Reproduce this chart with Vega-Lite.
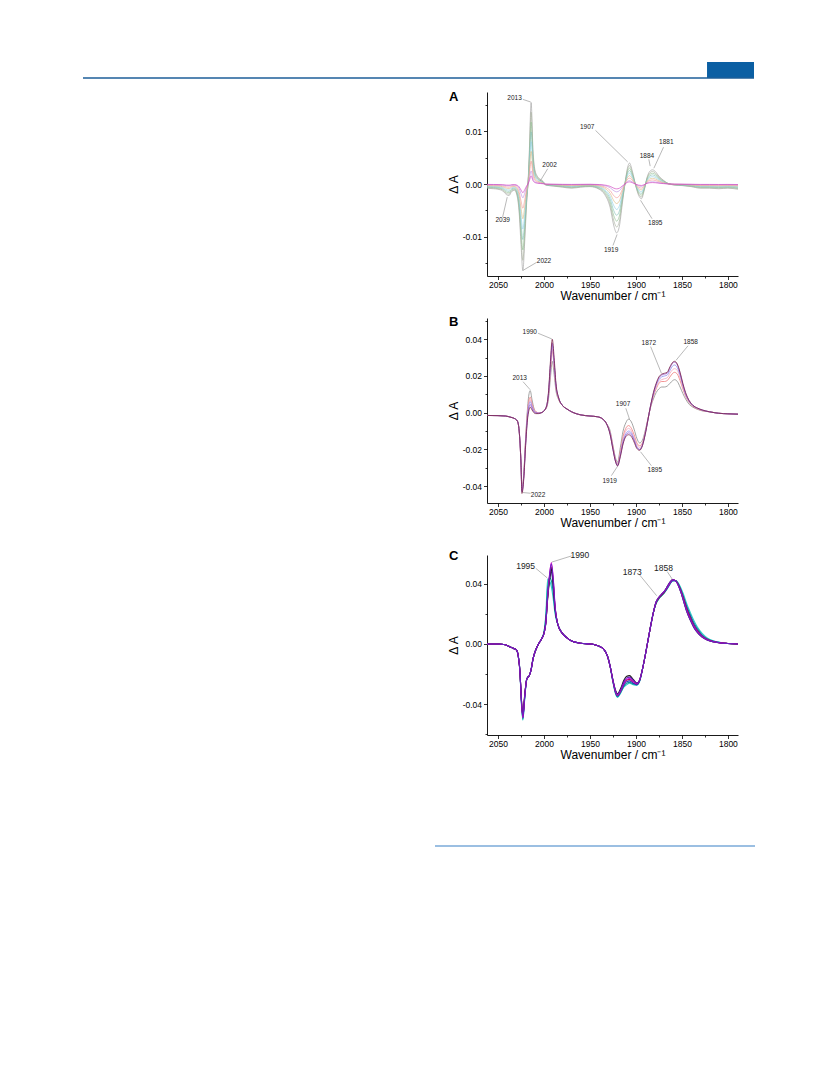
{
"$schema":"https://vega.github.io/schema/vega-lite/v6.json",
"background":"white",
"padding":{"left":82,"top":62,"right":0,"bottom":0},
"config":{"font":"Liberation Sans","view":{"stroke":null},
"axis":{"domainColor":"#000","domainWidth":0.9,"tickColor":"#000","tickWidth":0.8,"labelColor":"#000","labelFontSize":8.5,"titleColor":"#000","titleFontSize":12,"titleFontWeight":"normal","grid":false,"labelFont":"Liberation Sans","titleFont":"Liberation Sans"},
"title":{"color":"#000","font":"Liberation Sans"}},
"spacing":10,
"vconcat":[
{"width":671,"height":16,"view":{"stroke":null},
"data":{"values":[{"part":"rule","from":0,"to":100},{"part":"tab","from":93,"to":100}]},
"layer":[
{"transform":[{"filter":"datum.part==='tab'"}],"mark":{"type":"rect","color":"#0b5fa3"},
"encoding":{"x":{"field":"from","type":"quantitative","scale":{"domain":[0,100],"nice":false},"axis":null},"x2":{"field":"to"},"y":{"datum":0,"type":"quantitative","scale":{"domain":[0,1]},"axis":null},"y2":{"datum":1}}},
{"transform":[{"filter":"datum.part==='rule'"}],"mark":{"type":"rule","color":"#1d5e99","strokeWidth":1.6},
"encoding":{"x":{"field":"from","type":"quantitative","scale":{"domain":[0,100],"nice":false},"axis":null},"x2":{"field":"to"},"y":{"datum":0,"type":"quantitative","scale":{"domain":[0,1]},"axis":null}}}
]},
{"spacing":0,"hconcat":[
{"width":364,"height":1,"view":{"stroke":null,"fill":"white"},"data":{"values":[{"a":0}]},"mark":{"type":"point","opacity":0},"encoding":{}},
{"spacing":22,"vconcat":[
{"spacing":14,"vconcat":[
{"width":251,"height":184,
"title":{"text":"A","anchor":"start","frame":"bounds","offset":-12,"dx":2,"fontSize":13,"fontWeight":"bold","color":"#000"},
"encoding":{
"x":{"field":"x","type":"quantitative","scale":{"domain":[1789,2062],"reverse":true,"nice":false,"zero":false},
"axis":{"title":"Wavenumber / cm⁻¹","format":"d","values":[1800,1825,1850,1875,1900,1925,1950,1975,2000,2025,2050],"labelExpr":"datum.value % 50 === 0 ? datum.label : ''","tickSize":{"condition":{"test":"datum.value % 50 === 0","value":3.5},"value":2},"labelPadding":1,"titlePadding":1,"labelOverlap":false,"labelFlush":false}},
"y":{"field":"dA","type":"quantitative","scale":{"domain":[-0.0175,0.0175],"nice":false,"zero":false},
"axis":{"title":"Δ A","values":[-0.015,-0.01,-0.005,0,0.005,0.01,0.015],"labelExpr":"abs(datum.value*100-round(datum.value*100))<0.001 ? replace(format(datum.value,'.2f'),'−','-') : ''","tickSize":{"condition":{"test":"abs(datum.value*100-round(datum.value*100))<0.001","value":3.5},"value":2},"labelPadding":2,"titlePadding":3,"minExtent":24,"maxExtent":24,"labelOverlap":false}}},
"layer":[
{"data":{"values":[
{"x":2062,"a1":-0.0008,"a2":-0.0007,"a3":-0.00061,"a4":-0.00051,"a5":-0.00042,"a6":-0.00032,"a7":-0.00022,"a8":-0.00013,"a9":-0.00008},
{"x":2055,"a1":-0.0009,"a2":-0.00079,"a3":-0.00068,"a4":-0.00058,"a5":-0.00047,"a6":-0.00036,"a7":-0.00025,"a8":-0.00014,"a9":-0.00009},
{"x":2050,"a1":-0.001,"a2":-0.00088,"a3":-0.00076,"a4":-0.00064,"a5":-0.00052,"a6":-0.0004,"a7":-0.00028,"a8":-0.00016,"a9":-0.0001},
{"x":2045,"a1":-0.0013,"a2":-0.00114,"a3":-0.00099,"a4":-0.00083,"a5":-0.00068,"a6":-0.00052,"a7":-0.00036,"a8":-0.00021,"a9":-0.00013},
{"x":2041,"a1":-0.002,"a2":-0.00176,"a3":-0.00152,"a4":-0.00128,"a5":-0.00104,"a6":-0.0008,"a7":-0.00056,"a8":-0.00032,"a9":-0.0002},
{"x":2038,"a1":-0.0022,"a2":-0.00194,"a3":-0.00167,"a4":-0.00141,"a5":-0.00114,"a6":-0.00088,"a7":-0.00062,"a8":-0.00035,"a9":-0.00022},
{"x":2035,"a1":-0.0014,"a2":-0.00123,"a3":-0.00106,"a4":-0.0009,"a5":-0.00073,"a6":-0.00056,"a7":-0.00039,"a8":-0.00022,"a9":-0.00014},
{"x":2032,"a1":-0.0012,"a2":-0.00106,"a3":-0.00091,"a4":-0.00077,"a5":-0.00062,"a6":-0.00048,"a7":-0.00034,"a8":-0.00019,"a9":-0.00012},
{"x":2029,"a1":-0.0025,"a2":-0.0022,"a3":-0.0019,"a4":-0.0016,"a5":-0.0013,"a6":-0.001,"a7":-0.0007,"a8":-0.0004,"a9":-0.00025},
{"x":2027,"a1":-0.0055,"a2":-0.00484,"a3":-0.00418,"a4":-0.00352,"a5":-0.00286,"a6":-0.0022,"a7":-0.00154,"a8":-0.00088,"a9":-0.00055},
{"x":2025,"a1":-0.0115,"a2":-0.01012,"a3":-0.00874,"a4":-0.00736,"a5":-0.00598,"a6":-0.0046,"a7":-0.00322,"a8":-0.00184,"a9":-0.00115},
{"x":2023,"a1":-0.0165,"a2":-0.01452,"a3":-0.01254,"a4":-0.01056,"a5":-0.00858,"a6":-0.0066,"a7":-0.00462,"a8":-0.00264,"a9":-0.00165},
{"x":2021,"a1":-0.011,"a2":-0.00968,"a3":-0.00836,"a4":-0.00704,"a5":-0.00572,"a6":-0.0044,"a7":-0.00308,"a8":-0.00176,"a9":-0.0011},
{"x":2019,"a1":-0.004,"a2":-0.00352,"a3":-0.00304,"a4":-0.00256,"a5":-0.00208,"a6":-0.0016,"a7":-0.00112,"a8":-0.00064,"a9":-0.0004},
{"x":2017,"a1":0.0015,"a2":0.00132,"a3":0.00114,"a4":0.00096,"a5":0.00078,"a6":0.0006,"a7":0.00042,"a8":0.00024,"a9":0.00015},
{"x":2016,"a1":0.006,"a2":0.00528,"a3":0.00456,"a4":0.00384,"a5":0.00312,"a6":0.0024,"a7":0.00168,"a8":0.00096,"a9":0.0006},
{"x":2014,"a1":0.0155,"a2":0.01364,"a3":0.01178,"a4":0.00992,"a5":0.00806,"a6":0.0062,"a7":0.00434,"a8":0.00248,"a9":0.00155},
{"x":2012,"a1":0.0065,"a2":0.00572,"a3":0.00494,"a4":0.00416,"a5":0.00338,"a6":0.0026,"a7":0.00182,"a8":0.00104,"a9":0.00065},
{"x":2010,"a1":0.0028,"a2":0.00246,"a3":0.00213,"a4":0.00179,"a5":0.00146,"a6":0.00112,"a7":0.00078,"a8":0.00045,"a9":0.00028},
{"x":2007,"a1":0.0014,"a2":0.00123,"a3":0.00106,"a4":0.0009,"a5":0.00073,"a6":0.00056,"a7":0.00039,"a8":0.00022,"a9":0.00014},
{"x":2004,"a1":0.0009,"a2":0.00079,"a3":0.00068,"a4":0.00058,"a5":0.00047,"a6":0.00036,"a7":0.00025,"a8":0.00014,"a9":0.00009},
{"x":2001,"a1":0.0005,"a2":0.00044,"a3":0.00038,"a4":0.00032,"a5":0.00026,"a6":0.0002,"a7":0.00014,"a8":0.00008,"a9":0.00005},
{"x":1998,"a1":-0.0002,"a2":-0.00018,"a3":-0.00015,"a4":-0.00013,"a5":-0.0001,"a6":-0.00008,"a7":-0.00006,"a8":-0.00003,"a9":-0.00002},
{"x":1990,"a1":-0.0004,"a2":-0.00035,"a3":-0.0003,"a4":-0.00026,"a5":-0.00021,"a6":-0.00016,"a7":-0.00011,"a8":-0.00006,"a9":-0.00004},
{"x":1980,"a1":-0.0006,"a2":-0.00053,"a3":-0.00046,"a4":-0.00038,"a5":-0.00031,"a6":-0.00024,"a7":-0.00017,"a8":-0.0001,"a9":-0.00006},
{"x":1970,"a1":-0.0008,"a2":-0.0007,"a3":-0.00061,"a4":-0.00051,"a5":-0.00042,"a6":-0.00032,"a7":-0.00022,"a8":-0.00013,"a9":-0.00008},
{"x":1960,"a1":-0.0006,"a2":-0.00053,"a3":-0.00046,"a4":-0.00038,"a5":-0.00031,"a6":-0.00024,"a7":-0.00017,"a8":-0.0001,"a9":-0.00006},
{"x":1950,"a1":-0.0005,"a2":-0.00044,"a3":-0.00038,"a4":-0.00032,"a5":-0.00026,"a6":-0.0002,"a7":-0.00014,"a8":-0.00008,"a9":-0.00005},
{"x":1940,"a1":-0.001,"a2":-0.00088,"a3":-0.00076,"a4":-0.00064,"a5":-0.00052,"a6":-0.0004,"a7":-0.00028,"a8":-0.00016,"a9":-0.0001},
{"x":1934,"a1":-0.002,"a2":-0.00176,"a3":-0.00152,"a4":-0.00128,"a5":-0.00104,"a6":-0.0008,"a7":-0.00056,"a8":-0.00032,"a9":-0.0002},
{"x":1928,"a1":-0.0045,"a2":-0.00396,"a3":-0.00342,"a4":-0.00288,"a5":-0.00234,"a6":-0.0018,"a7":-0.00126,"a8":-0.00072,"a9":-0.00045},
{"x":1924,"a1":-0.008,"a2":-0.00704,"a3":-0.00608,"a4":-0.00512,"a5":-0.00416,"a6":-0.0032,"a7":-0.00224,"a8":-0.00128,"a9":-0.0008},
{"x":1921,"a1":-0.0093,"a2":-0.00818,"a3":-0.00707,"a4":-0.00595,"a5":-0.00484,"a6":-0.00372,"a7":-0.0026,"a8":-0.00149,"a9":-0.00093},
{"x":1918,"a1":-0.008,"a2":-0.00704,"a3":-0.00608,"a4":-0.00512,"a5":-0.00416,"a6":-0.0032,"a7":-0.00224,"a8":-0.00128,"a9":-0.0008},
{"x":1915,"a1":-0.004,"a2":-0.00352,"a3":-0.00304,"a4":-0.00256,"a5":-0.00208,"a6":-0.0016,"a7":-0.00112,"a8":-0.00064,"a9":-0.0004},
{"x":1912,"a1":0,"a2":0,"a3":0,"a4":0,"a5":0,"a6":0,"a7":0,"a8":0,"a9":0},
{"x":1909,"a1":0.0032,"a2":0.00282,"a3":0.00243,"a4":0.00205,"a5":0.00166,"a6":0.00128,"a7":0.0009,"a8":0.00051,"a9":0.00032},
{"x":1907,"a1":0.004,"a2":0.00352,"a3":0.00304,"a4":0.00256,"a5":0.00208,"a6":0.0016,"a7":0.00112,"a8":0.00064,"a9":0.0004},
{"x":1904,"a1":0.0025,"a2":0.0022,"a3":0.0019,"a4":0.0016,"a5":0.0013,"a6":0.001,"a7":0.0007,"a8":0.0004,"a9":0.00025},
{"x":1900,"a1":-0.0005,"a2":-0.00044,"a3":-0.00038,"a4":-0.00032,"a5":-0.00026,"a6":-0.0002,"a7":-0.00014,"a8":-0.00008,"a9":-0.00005},
{"x":1897,"a1":-0.0022,"a2":-0.00194,"a3":-0.00167,"a4":-0.00141,"a5":-0.00114,"a6":-0.00088,"a7":-0.00062,"a8":-0.00035,"a9":-0.00022},
{"x":1894,"a1":-0.0028,"a2":-0.00246,"a3":-0.00213,"a4":-0.00179,"a5":-0.00146,"a6":-0.00112,"a7":-0.00078,"a8":-0.00045,"a9":-0.00028},
{"x":1891,"a1":-0.0012,"a2":-0.00106,"a3":-0.00091,"a4":-0.00077,"a5":-0.00062,"a6":-0.00048,"a7":-0.00034,"a8":-0.00019,"a9":-0.00012},
{"x":1888,"a1":0.0012,"a2":0.00106,"a3":0.00091,"a4":0.00077,"a5":0.00062,"a6":0.00048,"a7":0.00034,"a8":0.00019,"a9":0.00012},
{"x":1885,"a1":0.0024,"a2":0.00211,"a3":0.00182,"a4":0.00154,"a5":0.00125,"a6":0.00096,"a7":0.00067,"a8":0.00038,"a9":0.00024},
{"x":1882,"a1":0.0027,"a2":0.00238,"a3":0.00205,"a4":0.00173,"a5":0.0014,"a6":0.00108,"a7":0.00076,"a8":0.00043,"a9":0.00027},
{"x":1879,"a1":0.0024,"a2":0.00211,"a3":0.00182,"a4":0.00154,"a5":0.00125,"a6":0.00096,"a7":0.00067,"a8":0.00038,"a9":0.00024},
{"x":1875,"a1":0.0015,"a2":0.00132,"a3":0.00114,"a4":0.00096,"a5":0.00078,"a6":0.0006,"a7":0.00042,"a8":0.00024,"a9":0.00015},
{"x":1870,"a1":0.0007,"a2":0.00062,"a3":0.00053,"a4":0.00045,"a5":0.00036,"a6":0.00028,"a7":0.0002,"a8":0.00011,"a9":0.00007},
{"x":1865,"a1":0.0001,"a2":0.00009,"a3":0.00008,"a4":0.00006,"a5":0.00005,"a6":0.00004,"a7":0.00003,"a8":0.00002,"a9":0.00001},
{"x":1858,"a1":-0.0002,"a2":-0.00018,"a3":-0.00015,"a4":-0.00013,"a5":-0.0001,"a6":-0.00008,"a7":-0.00006,"a8":-0.00003,"a9":-0.00002},
{"x":1850,"a1":-0.0003,"a2":-0.00026,"a3":-0.00023,"a4":-0.00019,"a5":-0.00016,"a6":-0.00012,"a7":-0.00008,"a8":-0.00005,"a9":-0.00003},
{"x":1840,"a1":-0.0005,"a2":-0.00044,"a3":-0.00038,"a4":-0.00032,"a5":-0.00026,"a6":-0.0002,"a7":-0.00014,"a8":-0.00008,"a9":-0.00005},
{"x":1830,"a1":-0.0008,"a2":-0.0007,"a3":-0.00061,"a4":-0.00051,"a5":-0.00042,"a6":-0.00032,"a7":-0.00022,"a8":-0.00013,"a9":-0.00008},
{"x":1820,"a1":-0.0008,"a2":-0.0007,"a3":-0.00061,"a4":-0.00051,"a5":-0.00042,"a6":-0.00032,"a7":-0.00022,"a8":-0.00013,"a9":-0.00008},
{"x":1810,"a1":-0.0009,"a2":-0.00079,"a3":-0.00068,"a4":-0.00058,"a5":-0.00047,"a6":-0.00036,"a7":-0.00025,"a8":-0.00014,"a9":-0.00009},
{"x":1800,"a1":-0.0008,"a2":-0.0007,"a3":-0.00061,"a4":-0.00051,"a5":-0.00042,"a6":-0.00032,"a7":-0.00022,"a8":-0.00013,"a9":-0.00008},
{"x":1789,"a1":-0.001,"a2":-0.00088,"a3":-0.00076,"a4":-0.00064,"a5":-0.00052,"a6":-0.0004,"a7":-0.00028,"a8":-0.00016,"a9":-0.0001}
]},
"transform":[{"fold":["a1","a2","a3","a4","a5","a6","a7","a8","a9"],"as":["series","dA"]}],
"mark":{"type":"line","strokeWidth":0.6,"interpolate":"monotone"},
"encoding":{"color":{"field":"series","type":"nominal","scale":{"domain":["a1","a2","a3","a4","a5","a6","a7","a8","a9","b6","b5","b4","b3","b2","b1","c7","c6","c5","c4","c1","c3","c2"],"range":["#9a9a9a","#a4ad98","#8dbd8d","#7fbfb5","#8ccfe6","#d9b77a","#f29191","#b88ae0","#cc33bb","#8c8c8c","#f07878","#f0a8c0","#8c8cf0","#9a5cc8","#7a2348","#33cccc","#119999","#2233bb","#b01030","#1a1a1a","#cc00cc","#6a1fc0"]},"legend":null}}},
{"data":{"values":[
{"x":2023,"dA":0.0161,"x2":2014.5,"dA2":0.0156},
{"x":1996,"dA":0.0029,"x2":2004,"dA2":0.0006},
{"x":2045,"dA":-0.0063,"x2":2040,"dA2":-0.0025},
{"x":2008,"dA":-0.0149,"x2":2022.5,"dA2":-0.0164},
{"x":1944,"dA":0.0102,"x2":1909,"dA2":0.0042},
{"x":1886,"dA":0.0047,"x2":1884.5,"dA2":0.0034},
{"x":1870,"dA":0.007,"x2":1880.5,"dA2":0.003},
{"x":1925,"dA":-0.0117,"x2":1920.5,"dA2":-0.0096},
{"x":1882.5,"dA":-0.0066,"x2":1895,"dA2":-0.0031}
]},
"mark":{"type":"rule","color":"#8a8a8a","strokeWidth":0.6},
"encoding":{"x2":{"field":"x2"},"y2":{"field":"dA2"}}},
{"data":{"values":[
{"t":"2013","x":2032,"dA":0.0163},
{"t":"2002","x":1994,"dA":0.0037},
{"t":"2039","x":2045,"dA":-0.0069},
{"t":"2022","x":2000,"dA":-0.0147},
{"t":"1907","x":1953,"dA":0.0109},
{"t":"1884","x":1888,"dA":0.0053},
{"t":"1881","x":1867,"dA":0.0079},
{"t":"1919","x":1927,"dA":-0.0126},
{"t":"1895","x":1879,"dA":-0.0075}
]},
"mark":{"type":"text","fontSize":6.5,"color":"#222"},
"encoding":{"text":{"field":"t"}}}
]},
{"width":251,"height":185,
"title":{"text":"B","anchor":"start","frame":"bounds","offset":-12,"dx":2,"fontSize":13,"fontWeight":"bold","color":"#000"},
"encoding":{
"x":{"field":"x","type":"quantitative","scale":{"domain":[1789,2062],"reverse":true,"nice":false,"zero":false},
"axis":{"title":"Wavenumber / cm⁻¹","format":"d","values":[1800,1825,1850,1875,1900,1925,1950,1975,2000,2025,2050],"labelExpr":"datum.value % 50 === 0 ? datum.label : ''","tickSize":{"condition":{"test":"datum.value % 50 === 0","value":3.5},"value":2},"labelPadding":1,"titlePadding":1,"labelOverlap":false,"labelFlush":false}},
"y":{"field":"dA","type":"quantitative","scale":{"domain":[-0.0492,0.0516],"nice":false,"zero":false},
"axis":{"title":"Δ A","values":[-0.04,-0.03,-0.02,-0.01,0,0.01,0.02,0.03,0.04,0.05],"labelExpr":"abs(datum.value*50-round(datum.value*50))<0.001 ? replace(format(datum.value,'.2f'),'−','-') : ''","tickSize":{"condition":{"test":"abs(datum.value*50-round(datum.value*50))<0.001","value":3.5},"value":2},"labelPadding":2,"titlePadding":3,"minExtent":24,"maxExtent":24,"labelOverlap":false}}},
"layer":[
{"data":{"values":[
{"x":2062,"b1":-0.0015,"b2":-0.0015,"b3":-0.0015,"b4":-0.0015,"b5":-0.0015,"b6":-0.0015},
{"x":2050,"b1":-0.0016,"b2":-0.0016,"b3":-0.0016,"b4":-0.0016,"b5":-0.0016,"b6":-0.0016},
{"x":2042,"b1":-0.0018,"b2":-0.0018,"b3":-0.0018,"b4":-0.0018,"b5":-0.0018,"b6":-0.0018},
{"x":2036,"b1":-0.0025,"b2":-0.0025,"b3":-0.0025,"b4":-0.0025,"b5":-0.0025,"b6":-0.0025},
{"x":2032,"b1":-0.0032,"b2":-0.0032,"b3":-0.0032,"b4":-0.0032,"b5":-0.0032,"b6":-0.0032},
{"x":2029,"b1":-0.0045,"b2":-0.0045,"b3":-0.0045,"b4":-0.0045,"b5":-0.0045,"b6":-0.0045},
{"x":2027,"b1":-0.01,"b2":-0.01,"b3":-0.01,"b4":-0.01,"b5":-0.01,"b6":-0.01},
{"x":2025,"b1":-0.028,"b2":-0.028,"b3":-0.028,"b4":-0.028,"b5":-0.028,"b6":-0.028},
{"x":2024,"b1":-0.044,"b2":-0.043,"b3":-0.043,"b4":-0.042,"b5":-0.042,"b6":-0.041},
{"x":2022,"b1":-0.036,"b2":-0.035,"b3":-0.035,"b4":-0.034,"b5":-0.034,"b6":-0.033},
{"x":2020,"b1":-0.018,"b2":-0.017,"b3":-0.017,"b4":-0.016,"b5":-0.015,"b6":-0.014},
{"x":2018,"b1":-0.004,"b2":-0.003,"b3":-0.002,"b4":-0.001,"b5":0,"b6":0.002},
{"x":2016,"b1":0.002,"b2":0.0035,"b3":0.005,"b4":0.006,"b5":0.0075,"b6":0.011},
{"x":2015,"b1":0.003,"b2":0.0045,"b3":0.006,"b4":0.007,"b5":0.0085,"b6":0.012},
{"x":2013,"b1":0.0015,"b2":0.0025,"b3":0.0035,"b4":0.004,"b5":0.005,"b6":0.007},
{"x":2011,"b1":0,"b2":0.0005,"b3":0.001,"b4":0.0015,"b5":0.002,"b6":0.0025},
{"x":2009,"b1":-0.0005,"b2":0,"b3":0,"b4":0.0005,"b5":0.0005,"b6":0.0005},
{"x":2006,"b1":-0.0005,"b2":-0.0003,"b3":-0.0003,"b4":0,"b5":0,"b6":0},
{"x":2003,"b1":0,"b2":0,"b3":0,"b4":0,"b5":0,"b6":0},
{"x":2000,"b1":0.001,"b2":0.001,"b3":0.001,"b4":0.001,"b5":0.001,"b6":0.001},
{"x":1997,"b1":0.004,"b2":0.004,"b3":0.004,"b4":0.0035,"b5":0.0035,"b6":0.003},
{"x":1995,"b1":0.012,"b2":0.011,"b3":0.011,"b4":0.01,"b5":0.01,"b6":0.008},
{"x":1993,"b1":0.028,"b2":0.026,"b3":0.026,"b4":0.024,"b5":0.023,"b6":0.019},
{"x":1991,"b1":0.04,"b2":0.038,"b3":0.037,"b4":0.035,"b5":0.034,"b6":0.028},
{"x":1989,"b1":0.03,"b2":0.028,"b3":0.027,"b4":0.026,"b5":0.025,"b6":0.021},
{"x":1987,"b1":0.016,"b2":0.015,"b3":0.015,"b4":0.014,"b5":0.014,"b6":0.012},
{"x":1984,"b1":0.008,"b2":0.008,"b3":0.008,"b4":0.0075,"b5":0.0075,"b6":0.007},
{"x":1980,"b1":0.004,"b2":0.004,"b3":0.004,"b4":0.004,"b5":0.004,"b6":0.004},
{"x":1975,"b1":0.002,"b2":0.002,"b3":0.002,"b4":0.002,"b5":0.002,"b6":0.002},
{"x":1970,"b1":0.0005,"b2":0.0005,"b3":0.0005,"b4":0.0005,"b5":0.0005,"b6":0.0005},
{"x":1960,"b1":-0.0012,"b2":-0.0012,"b3":-0.0012,"b4":-0.0012,"b5":-0.0012,"b6":-0.0012},
{"x":1950,"b1":-0.0018,"b2":-0.0018,"b3":-0.0018,"b4":-0.0018,"b5":-0.0018,"b6":-0.0018},
{"x":1942,"b1":-0.0022,"b2":-0.0022,"b3":-0.0022,"b4":-0.0022,"b5":-0.0022,"b6":-0.0022},
{"x":1936,"b1":-0.0035,"b2":-0.0035,"b3":-0.0035,"b4":-0.0035,"b5":-0.0035,"b6":-0.0035},
{"x":1932,"b1":-0.006,"b2":-0.006,"b3":-0.006,"b4":-0.006,"b5":-0.006,"b6":-0.006},
{"x":1928,"b1":-0.012,"b2":-0.012,"b3":-0.0115,"b4":-0.011,"b5":-0.011,"b6":-0.01},
{"x":1925,"b1":-0.02,"b2":-0.02,"b3":-0.0195,"b4":-0.019,"b5":-0.0185,"b6":-0.018},
{"x":1922,"b1":-0.027,"b2":-0.027,"b3":-0.0265,"b4":-0.026,"b5":-0.026,"b6":-0.025},
{"x":1920,"b1":-0.029,"b2":-0.029,"b3":-0.0285,"b4":-0.028,"b5":-0.028,"b6":-0.027},
{"x":1917,"b1":-0.024,"b2":-0.0235,"b3":-0.023,"b4":-0.022,"b5":-0.021,"b6":-0.019},
{"x":1914,"b1":-0.017,"b2":-0.0165,"b3":-0.0155,"b4":-0.0145,"b5":-0.013,"b6":-0.01},
{"x":1911,"b1":-0.013,"b2":-0.0125,"b3":-0.0115,"b4":-0.01,"b5":-0.0085,"b6":-0.0055},
{"x":1908,"b1":-0.012,"b2":-0.011,"b3":-0.01,"b4":-0.0085,"b5":-0.007,"b6":-0.0035},
{"x":1905,"b1":-0.013,"b2":-0.012,"b3":-0.011,"b4":-0.01,"b5":-0.0085,"b6":-0.005},
{"x":1902,"b1":-0.016,"b2":-0.015,"b3":-0.0145,"b4":-0.0135,"b5":-0.012,"b6":-0.009},
{"x":1899,"b1":-0.0195,"b2":-0.019,"b3":-0.0185,"b4":-0.0175,"b5":-0.0165,"b6":-0.014},
{"x":1896,"b1":-0.0205,"b2":-0.02,"b3":-0.02,"b4":-0.019,"b5":-0.018,"b6":-0.0165},
{"x":1893,"b1":-0.018,"b2":-0.018,"b3":-0.0175,"b4":-0.017,"b5":-0.0165,"b6":-0.015},
{"x":1890,"b1":-0.012,"b2":-0.012,"b3":-0.0115,"b4":-0.011,"b5":-0.011,"b6":-0.01},
{"x":1887,"b1":-0.004,"b2":-0.004,"b3":-0.004,"b4":-0.0035,"b5":-0.0035,"b6":-0.0035},
{"x":1884,"b1":0.004,"b2":0.004,"b3":0.004,"b4":0.0035,"b5":0.0035,"b6":0.003},
{"x":1881,"b1":0.011,"b2":0.0105,"b3":0.01,"b4":0.0095,"b5":0.009,"b6":0.0075},
{"x":1878,"b1":0.016,"b2":0.0155,"b3":0.015,"b4":0.014,"b5":0.013,"b6":0.011},
{"x":1875,"b1":0.0195,"b2":0.019,"b3":0.018,"b4":0.017,"b5":0.016,"b6":0.013},
{"x":1872,"b1":0.021,"b2":0.0205,"b3":0.0195,"b4":0.018,"b5":0.017,"b6":0.014},
{"x":1869,"b1":0.0215,"b2":0.021,"b3":0.02,"b4":0.0185,"b5":0.017,"b6":0.014},
{"x":1866,"b1":0.022,"b2":0.0215,"b3":0.0205,"b4":0.019,"b5":0.0175,"b6":0.0145},
{"x":1863,"b1":0.025,"b2":0.0245,"b3":0.023,"b4":0.0215,"b5":0.0195,"b6":0.016},
{"x":1860,"b1":0.0275,"b2":0.027,"b3":0.0255,"b4":0.0235,"b5":0.0215,"b6":0.0175},
{"x":1858,"b1":0.028,"b2":0.0275,"b3":0.026,"b4":0.024,"b5":0.022,"b6":0.018},
{"x":1855,"b1":0.0265,"b2":0.026,"b3":0.0245,"b4":0.023,"b5":0.021,"b6":0.017},
{"x":1852,"b1":0.022,"b2":0.0215,"b3":0.0205,"b4":0.019,"b5":0.0175,"b6":0.014},
{"x":1849,"b1":0.016,"b2":0.0155,"b3":0.015,"b4":0.014,"b5":0.013,"b6":0.0105},
{"x":1846,"b1":0.011,"b2":0.0105,"b3":0.01,"b4":0.0095,"b5":0.009,"b6":0.0075},
{"x":1842,"b1":0.0065,"b2":0.0065,"b3":0.006,"b4":0.006,"b5":0.0055,"b6":0.0045},
{"x":1838,"b1":0.004,"b2":0.004,"b3":0.0038,"b4":0.0036,"b5":0.0034,"b6":0.003},
{"x":1833,"b1":0.0025,"b2":0.0025,"b3":0.0023,"b4":0.0022,"b5":0.002,"b6":0.0018},
{"x":1828,"b1":0.0015,"b2":0.0015,"b3":0.0014,"b4":0.0013,"b5":0.0012,"b6":0.001},
{"x":1820,"b1":0.0005,"b2":0.0005,"b3":0.0005,"b4":0.0005,"b5":0.0005,"b6":0.0005},
{"x":1810,"b1":-0.0003,"b2":-0.0003,"b3":-0.0003,"b4":-0.0003,"b5":-0.0003,"b6":-0.0003},
{"x":1800,"b1":-0.0006,"b2":-0.0006,"b3":-0.0006,"b4":-0.0006,"b5":-0.0006,"b6":-0.0006},
{"x":1789,"b1":-0.0008,"b2":-0.0008,"b3":-0.0008,"b4":-0.0008,"b5":-0.0008,"b6":-0.0008}
]},
"transform":[{"fold":["b6","b5","b4","b3","b2","b1"],"as":["series","dA"]}],
"mark":{"type":"line","strokeWidth":0.8,"interpolate":"monotone"},
"encoding":{"color":{"field":"series","type":"nominal","scale":{"domain":["a1","a2","a3","a4","a5","a6","a7","a8","a9","b6","b5","b4","b3","b2","b1","c7","c6","c5","c4","c1","c3","c2"],"range":["#9a9a9a","#a4ad98","#8dbd8d","#7fbfb5","#8ccfe6","#d9b77a","#f29191","#b88ae0","#cc33bb","#8c8c8c","#f07878","#f0a8c0","#8c8cf0","#9a5cc8","#7a2348","#33cccc","#119999","#2233bb","#b01030","#1a1a1a","#cc00cc","#6a1fc0"]},"legend":null}}},
{"data":{"values":[
{"x":2006.5,"dA":0.0433,"x2":1991.5,"dA2":0.0402},
{"x":2022.8,"dA":0.0169,"x2":2015,"dA2":0.0125},
{"x":2014.6,"dA":-0.0439,"x2":2023,"dA2":-0.0435},
{"x":1911,"dA":0.0024,"x2":1907,"dA2":-0.0035},
{"x":1926.7,"dA":-0.0343,"x2":1920,"dA2":-0.0292},
{"x":1883.2,"dA":-0.0289,"x2":1895,"dA2":-0.0213},
{"x":1884,"dA":0.036,"x2":1872.3,"dA2":0.0215},
{"x":1843.3,"dA":0.0365,"x2":1856.5,"dA2":0.0285}
]},
"mark":{"type":"rule","color":"#8a8a8a","strokeWidth":0.6},
"encoding":{"x2":{"field":"x2"},"y2":{"field":"dA2"}}},
{"data":{"values":[
{"t":"1990","x":2015.5,"dA":0.0438},
{"t":"2013","x":2026.5,"dA":0.0188},
{"t":"2022","x":2006.5,"dA":-0.0449},
{"t":"1907","x":1914,"dA":0.0047},
{"t":"1919","x":1928.5,"dA":-0.0371},
{"t":"1895","x":1879.5,"dA":-0.0312},
{"t":"1872","x":1886,"dA":0.0378},
{"t":"1858","x":1840.5,"dA":0.0384}
]},
"mark":{"type":"text","fontSize":6.5,"color":"#222"},
"encoding":{"text":{"field":"t"}}}
]}
]},
{"width":251,"height":180,
"title":{"text":"C","anchor":"start","frame":"bounds","offset":-12,"dx":2,"fontSize":13,"fontWeight":"bold","color":"#000"},
"encoding":{
"x":{"field":"x","type":"quantitative","scale":{"domain":[1789,2062],"reverse":true,"nice":false,"zero":false},
"axis":{"title":"Wavenumber / cm⁻¹","format":"d","values":[1800,1825,1850,1875,1900,1925,1950,1975,2000,2025,2050],"labelExpr":"datum.value % 50 === 0 ? datum.label : ''","tickSize":{"condition":{"test":"datum.value % 50 === 0","value":3.5},"value":2},"labelPadding":1,"titlePadding":1,"labelOverlap":false,"labelFlush":false}},
"y":{"field":"dA","type":"quantitative","scale":{"domain":[-0.0604,0.059],"nice":false,"zero":false},
"axis":{"title":"Δ A","values":[-0.06,-0.04,-0.02,0,0.02,0.04],"labelExpr":"abs(datum.value*25-round(datum.value*25))<0.001 ? replace(format(datum.value,'.2f'),'−','-') : ''","tickSize":{"condition":{"test":"abs(datum.value*25-round(datum.value*25))<0.001","value":3.5},"value":2},"labelPadding":2,"titlePadding":3,"minExtent":24,"maxExtent":24,"labelOverlap":false}}},
"layer":[
{"data":{"values":[
{"x":2062,"c1":0,"c2":0,"c3":0,"c4":0,"c5":0,"c6":0,"c7":0},
{"x":2050,"c1":0,"c2":0,"c3":0,"c4":0,"c5":0,"c6":0,"c7":0},
{"x":2042,"c1":-0.0005,"c2":-0.0005,"c3":-0.0005,"c4":-0.0005,"c5":-0.0005,"c6":-0.0005,"c7":-0.0005},
{"x":2037,"c1":-0.002,"c2":-0.002,"c3":-0.002,"c4":-0.002,"c5":-0.002,"c6":-0.002,"c7":-0.002},
{"x":2033,"c1":-0.003,"c2":-0.003,"c3":-0.003,"c4":-0.003,"c5":-0.003,"c6":-0.003,"c7":-0.003},
{"x":2030,"c1":-0.004,"c2":-0.004,"c3":-0.004,"c4":-0.004,"c5":-0.004,"c6":-0.004,"c7":-0.004},
{"x":2028,"c1":-0.008,"c2":-0.008,"c3":-0.008,"c4":-0.008,"c5":-0.008,"c6":-0.008,"c7":-0.008},
{"x":2026,"c1":-0.02,"c2":-0.02,"c3":-0.02,"c4":-0.02,"c5":-0.02,"c6":-0.02,"c7":-0.02},
{"x":2025,"c1":-0.032,"c2":-0.032,"c3":-0.033,"c4":-0.032,"c5":-0.033,"c6":-0.034,"c7":-0.035},
{"x":2023,"c1":-0.047,"c2":-0.048,"c3":-0.049,"c4":-0.048,"c5":-0.049,"c6":-0.05,"c7":-0.0505},
{"x":2021,"c1":-0.034,"c2":-0.035,"c3":-0.035,"c4":-0.034,"c5":-0.035,"c6":-0.036,"c7":-0.037},
{"x":2019,"c1":-0.024,"c2":-0.024,"c3":-0.024,"c4":-0.024,"c5":-0.024,"c6":-0.024,"c7":-0.024},
{"x":2018,"c1":-0.0225,"c2":-0.0225,"c3":-0.0225,"c4":-0.0225,"c5":-0.0225,"c6":-0.0225,"c7":-0.0225},
{"x":2016,"c1":-0.021,"c2":-0.021,"c3":-0.021,"c4":-0.021,"c5":-0.021,"c6":-0.021,"c7":-0.021},
{"x":2014,"c1":-0.017,"c2":-0.017,"c3":-0.017,"c4":-0.017,"c5":-0.017,"c6":-0.017,"c7":-0.017},
{"x":2012,"c1":-0.01,"c2":-0.01,"c3":-0.01,"c4":-0.01,"c5":-0.01,"c6":-0.01,"c7":-0.01},
{"x":2009,"c1":-0.004,"c2":-0.004,"c3":-0.004,"c4":-0.004,"c5":-0.004,"c6":-0.004,"c7":-0.004},
{"x":2006,"c1":0,"c2":0,"c3":0,"c4":0,"c5":0,"c6":0,"c7":0},
{"x":2003,"c1":0.003,"c2":0.003,"c3":0.003,"c4":0.003,"c5":0.003,"c6":0.003,"c7":0.003},
{"x":2000,"c1":0.007,"c2":0.007,"c3":0.007,"c4":0.007,"c5":0.007,"c6":0.008,"c7":0.008},
{"x":1998,"c1":0.014,"c2":0.014,"c3":0.014,"c4":0.014,"c5":0.015,"c6":0.018,"c7":0.02},
{"x":1996,"c1":0.03,"c2":0.032,"c3":0.032,"c4":0.031,"c5":0.033,"c6":0.038,"c7":0.043},
{"x":1994,"c1":0.042,"c2":0.045,"c3":0.046,"c4":0.044,"c5":0.043,"c6":0.044,"c7":0.042},
{"x":1992,"c1":0.05,"c2":0.053,"c3":0.054,"c4":0.051,"c5":0.048,"c6":0.042,"c7":0.038},
{"x":1990,"c1":0.04,"c2":0.043,"c3":0.044,"c4":0.041,"c5":0.038,"c6":0.034,"c7":0.03},
{"x":1988,"c1":0.024,"c2":0.025,"c3":0.026,"c4":0.024,"c5":0.023,"c6":0.022,"c7":0.02},
{"x":1985,"c1":0.013,"c2":0.013,"c3":0.013,"c4":0.013,"c5":0.013,"c6":0.013,"c7":0.013},
{"x":1980,"c1":0.007,"c2":0.007,"c3":0.007,"c4":0.007,"c5":0.007,"c6":0.007,"c7":0.007},
{"x":1975,"c1":0.004,"c2":0.004,"c3":0.004,"c4":0.004,"c5":0.004,"c6":0.004,"c7":0.004},
{"x":1970,"c1":0.002,"c2":0.002,"c3":0.002,"c4":0.002,"c5":0.002,"c6":0.002,"c7":0.002},
{"x":1960,"c1":0.0005,"c2":0.0005,"c3":0.0005,"c4":0.0005,"c5":0.0005,"c6":0.0005,"c7":0.0005},
{"x":1950,"c1":0,"c2":0,"c3":0,"c4":0,"c5":0,"c6":0,"c7":0},
{"x":1945,"c1":-0.0005,"c2":-0.0005,"c3":-0.0005,"c4":-0.0005,"c5":-0.0005,"c6":-0.0005,"c7":-0.0005},
{"x":1940,"c1":-0.0015,"c2":-0.0015,"c3":-0.0015,"c4":-0.0015,"c5":-0.0015,"c6":-0.0015,"c7":-0.0015},
{"x":1935,"c1":-0.0035,"c2":-0.0035,"c3":-0.0035,"c4":-0.0035,"c5":-0.0035,"c6":-0.0035,"c7":-0.0035},
{"x":1931,"c1":-0.008,"c2":-0.008,"c3":-0.008,"c4":-0.008,"c5":-0.008,"c6":-0.008,"c7":-0.008},
{"x":1928,"c1":-0.015,"c2":-0.015,"c3":-0.015,"c4":-0.015,"c5":-0.015,"c6":-0.015,"c7":-0.015},
{"x":1925,"c1":-0.024,"c2":-0.024,"c3":-0.0245,"c4":-0.0245,"c5":-0.025,"c6":-0.025,"c7":-0.0255},
{"x":1922,"c1":-0.031,"c2":-0.0315,"c3":-0.032,"c4":-0.032,"c5":-0.0325,"c6":-0.033,"c7":-0.0335},
{"x":1920,"c1":-0.033,"c2":-0.0335,"c3":-0.034,"c4":-0.034,"c5":-0.0345,"c6":-0.035,"c7":-0.0355},
{"x":1917,"c1":-0.03,"c2":-0.031,"c3":-0.0315,"c4":-0.0315,"c5":-0.032,"c6":-0.0325,"c7":-0.033},
{"x":1913,"c1":-0.024,"c2":-0.025,"c3":-0.026,"c4":-0.026,"c5":-0.027,"c6":-0.028,"c7":-0.0285},
{"x":1910,"c1":-0.0215,"c2":-0.0225,"c3":-0.0235,"c4":-0.024,"c5":-0.025,"c6":-0.026,"c7":-0.027},
{"x":1907,"c1":-0.021,"c2":-0.022,"c3":-0.023,"c4":-0.0235,"c5":-0.0245,"c6":-0.0255,"c7":-0.026},
{"x":1903,"c1":-0.0235,"c2":-0.024,"c3":-0.025,"c4":-0.025,"c5":-0.026,"c6":-0.0265,"c7":-0.027},
{"x":1899,"c1":-0.026,"c2":-0.026,"c3":-0.0265,"c4":-0.0265,"c5":-0.027,"c6":-0.027,"c7":-0.0275},
{"x":1896,"c1":-0.024,"c2":-0.024,"c3":-0.024,"c4":-0.024,"c5":-0.0245,"c6":-0.0245,"c7":-0.025},
{"x":1893,"c1":-0.017,"c2":-0.017,"c3":-0.017,"c4":-0.017,"c5":-0.017,"c6":-0.017,"c7":-0.017},
{"x":1890,"c1":-0.008,"c2":-0.008,"c3":-0.008,"c4":-0.008,"c5":-0.008,"c6":-0.008,"c7":-0.008},
{"x":1887,"c1":0.002,"c2":0.002,"c3":0.002,"c4":0.002,"c5":0.002,"c6":0.002,"c7":0.002},
{"x":1884,"c1":0.012,"c2":0.012,"c3":0.012,"c4":0.012,"c5":0.012,"c6":0.012,"c7":0.012},
{"x":1881,"c1":0.021,"c2":0.021,"c3":0.021,"c4":0.021,"c5":0.021,"c6":0.021,"c7":0.021},
{"x":1878,"c1":0.028,"c2":0.028,"c3":0.028,"c4":0.0275,"c5":0.0275,"c6":0.027,"c7":0.027},
{"x":1875,"c1":0.031,"c2":0.031,"c3":0.031,"c4":0.0305,"c5":0.0305,"c6":0.03,"c7":0.03},
{"x":1872,"c1":0.033,"c2":0.033,"c3":0.033,"c4":0.0325,"c5":0.0325,"c6":0.032,"c7":0.032},
{"x":1869,"c1":0.035,"c2":0.035,"c3":0.035,"c4":0.0345,"c5":0.0345,"c6":0.034,"c7":0.034},
{"x":1866,"c1":0.038,"c2":0.038,"c3":0.0375,"c4":0.0375,"c5":0.037,"c6":0.037,"c7":0.0365},
{"x":1863,"c1":0.041,"c2":0.041,"c3":0.0405,"c4":0.0405,"c5":0.04,"c6":0.04,"c7":0.0395},
{"x":1860,"c1":0.0425,"c2":0.0425,"c3":0.0425,"c4":0.0425,"c5":0.042,"c6":0.042,"c7":0.042},
{"x":1857,"c1":0.042,"c2":0.042,"c3":0.042,"c4":0.042,"c5":0.042,"c6":0.042,"c7":0.042},
{"x":1854,"c1":0.039,"c2":0.039,"c3":0.039,"c4":0.0395,"c5":0.0395,"c6":0.04,"c7":0.0405},
{"x":1851,"c1":0.034,"c2":0.034,"c3":0.0345,"c4":0.035,"c5":0.0355,"c6":0.036,"c7":0.037},
{"x":1848,"c1":0.028,"c2":0.028,"c3":0.0285,"c4":0.0295,"c5":0.03,"c6":0.031,"c7":0.0325},
{"x":1845,"c1":0.022,"c2":0.022,"c3":0.0225,"c4":0.0235,"c5":0.0245,"c6":0.0255,"c7":0.027},
{"x":1841,"c1":0.016,"c2":0.016,"c3":0.0165,"c4":0.0175,"c5":0.0185,"c6":0.0195,"c7":0.021},
{"x":1837,"c1":0.011,"c2":0.011,"c3":0.0115,"c4":0.012,"c5":0.013,"c6":0.014,"c7":0.0155},
{"x":1833,"c1":0.0075,"c2":0.0075,"c3":0.008,"c4":0.0085,"c5":0.009,"c6":0.01,"c7":0.011},
{"x":1828,"c1":0.0045,"c2":0.0045,"c3":0.0048,"c4":0.005,"c5":0.0055,"c6":0.006,"c7":0.007},
{"x":1822,"c1":0.0025,"c2":0.0025,"c3":0.0026,"c4":0.0028,"c5":0.003,"c6":0.0033,"c7":0.0038},
{"x":1815,"c1":0.0013,"c2":0.0013,"c3":0.0014,"c4":0.0015,"c5":0.0016,"c6":0.0018,"c7":0.002},
{"x":1808,"c1":0.0006,"c2":0.0006,"c3":0.0007,"c4":0.0007,"c5":0.0008,"c6":0.0009,"c7":0.001},
{"x":1800,"c1":0.0003,"c2":0.0003,"c3":0.0003,"c4":0.0003,"c5":0.0003,"c6":0.0003,"c7":0.0003},
{"x":1789,"c1":0,"c2":0,"c3":0,"c4":0,"c5":0,"c6":0,"c7":0}
]},
"transform":[{"fold":["c7","c6","c5","c4","c1","c3","c2"],"as":["series","dA"]}],
"mark":{"type":"line","strokeWidth":1.1,"interpolate":"monotone"},
"encoding":{"color":{"field":"series","type":"nominal","scale":{"domain":["a1","a2","a3","a4","a5","a6","a7","a8","a9","b6","b5","b4","b3","b2","b1","c7","c6","c5","c4","c1","c3","c2"],"range":["#9a9a9a","#a4ad98","#8dbd8d","#7fbfb5","#8ccfe6","#d9b77a","#f29191","#b88ae0","#cc33bb","#8c8c8c","#f07878","#f0a8c0","#8c8cf0","#9a5cc8","#7a2348","#33cccc","#119999","#2233bb","#b01030","#1a1a1a","#cc00cc","#6a1fc0"]},"legend":null}}},
{"data":{"values":[
{"x":2009,"dA":0.0502,"x2":1996.5,"dA2":0.0438},
{"x":1970,"dA":0.0584,"x2":1991.5,"dA2":0.0543},
{"x":1896,"dA":0.0458,"x2":1877.5,"dA2":0.032},
{"x":1866,"dA":0.048,"x2":1860.5,"dA2":0.043}
]},
"mark":{"type":"rule","color":"#8a8a8a","strokeWidth":0.6},
"encoding":{"x2":{"field":"x2"},"y2":{"field":"dA2"}}},
{"data":{"values":[
{"t":"1995","x":2020,"dA":0.0519},
{"t":"1990","x":1961,"dA":0.0588},
{"t":"1873","x":1904,"dA":0.048},
{"t":"1858","x":1870,"dA":0.0506}
]},
"mark":{"type":"text","fontSize":8.5,"color":"#222"},
"encoding":{"text":{"field":"t"}}}
]}
]}
]},
{"spacing":0,"hconcat":[
{"width":351,"height":1,"view":{"stroke":null,"fill":"white"},"data":{"values":[{"a":0}]},"mark":{"type":"point","opacity":0},"encoding":{}},
{"width":320,"height":73,"view":{"stroke":null},"data":{"values":[{"from":0,"to":100}]},"mark":{"type":"rule","color":"#7aaad8","strokeWidth":1.5},
"encoding":{"x":{"field":"from","type":"quantitative","scale":{"domain":[0,100],"nice":false},"axis":null},"x2":{"field":"to"},"y":{"datum":0,"type":"quantitative","scale":{"domain":[0,1]},"axis":null}}}
]}
]
}
